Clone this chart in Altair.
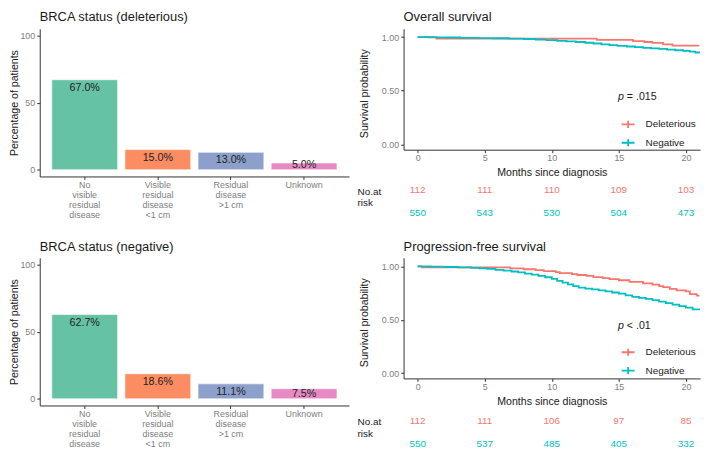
import altair as alt
import pandas as pd

FONT = "Liberation Sans"
RED = "#F8766D"
TEAL = "#00BFC4"
BAR_COLORS = ["#66C2A5", "#FC8D62", "#8DA0CB", "#E78AC3"]

# ---------------- data ----------------
categories = ["No\nvisible\nresidual\ndisease", "Visible\nresidual\ndisease\n<1 cm",
              "Residual\ndisease\n>1 cm", "Unknown"]
pct_deleterious = [67.0, 15.0, 13.0, 5.0]
pct_negative = [62.7, 18.6, 11.1, 7.5]

groups = ["Deleterious", "Negative"]

os_del_t = [0, 1.4, 13.35, 16.05, 16.9, 17.5, 18.3, 19.0, 21.0]
os_del_s = [1.0, 0.985, 0.973, 0.963, 0.954, 0.945, 0.932, 0.92, 0.92]
os_neg_t = [0, 0.8, 2.0, 3.2, 4.5, 5.6, 6.8, 7.9, 8.8, 9.6, 10.4, 11.1, 11.8, 12.5, 13.1,
            13.7, 14.3, 14.9, 15.6, 16.2, 16.8, 17.4, 18.0, 18.6, 19.2, 19.8, 20.3, 20.7, 21.0]
os_neg_s = [1.0, 0.998, 0.996, 0.993, 0.991, 0.989, 0.986, 0.982, 0.977, 0.971, 0.965, 0.96,
            0.954, 0.947, 0.94, 0.932, 0.925, 0.918, 0.912, 0.906, 0.9, 0.895, 0.889, 0.883,
            0.877, 0.871, 0.864, 0.856, 0.849]

pfs_del_t = [0, 0.3, 6.9, 7.9, 8.8, 9.4, 10.3, 10.6, 11.5, 11.9, 12.6, 13.1, 13.8, 14.3, 15.0,
             15.8, 16.8, 17.5, 18.0, 18.3, 18.8, 19.3, 20.0, 20.3, 20.8, 21.0]
pfs_del_s = [1.0, 0.991, 0.982, 0.973, 0.964, 0.955, 0.946, 0.937, 0.928, 0.919, 0.91, 0.9,
             0.89, 0.88, 0.87, 0.855, 0.84, 0.828, 0.815, 0.805, 0.79, 0.775, 0.765, 0.74,
             0.725, 0.725]
pfs_neg_t = [0, 1, 2, 3, 4, 4.6, 5.2, 5.8, 6.4, 7.0, 7.5, 8.0, 8.5, 9.0, 9.5, 10.0, 10.4, 10.8,
             11.2, 11.6, 12.0, 12.5, 13.0, 13.5, 14.0, 14.5, 15.0, 15.5, 16.0, 16.5, 17.0, 17.5,
             18.0, 18.5, 19.0, 19.5, 20.0, 20.5, 21.0]
pfs_neg_s = [1.0, 0.997, 0.994, 0.99, 0.986, 0.982, 0.976, 0.968, 0.96, 0.952, 0.943, 0.933,
             0.922, 0.911, 0.898, 0.883, 0.865, 0.847, 0.832, 0.815, 0.8, 0.792, 0.784, 0.775,
             0.766, 0.755, 0.744, 0.728, 0.714, 0.705, 0.695, 0.684, 0.67, 0.655, 0.641, 0.628,
             0.613, 0.598, 0.59]

risk_times = [0, 5, 10, 15, 20]
os_risk_del = [112, 111, 110, 109, 103]
os_risk_neg = [550, 543, 530, 504, 473]
pfs_risk_del = [112, 111, 106, 97, 85]
pfs_risk_neg = [550, 537, 485, 405, 332]

os_p = "= .015"
pfs_p = "< .01"
p_pos_t = 14.93
p_pos_s = 0.445

# ---------------- panels ----------------
def make_title(text, offset):
    return alt.Title(text, anchor="start", frame="group", offset=offset, fontSize=13,
                     baseline="top", font=FONT, color="#1a1a1a", fontWeight="normal")


def bar_panel(title, pct, title_offset):
    df = pd.DataFrame({"cat": categories, "pct": pct})
    base = alt.Chart(df).transform_calculate(
        lab="format(datum.pct, '.1f') + '%'",
        labpos="max(datum.pct - 6, 3.5)",
    )
    xenc = alt.X("cat:N", sort=categories,
                 scale=alt.Scale(paddingInner=0.1, paddingOuter=0.165),
                 axis=alt.Axis(title=None, labelAngle=0, labelExpr="split(datum.label, '\\n')",
                               labelLineHeight=10, labelBaseline="top", labelPadding=1,
                               labelFontSize=9))
    bars = base.mark_bar(stroke="white", strokeWidth=0.6).encode(
        x=xenc,
        y=alt.Y("pct:Q", scale=alt.Scale(domain=[-5, 105], nice=False, zero=False),
                axis=alt.Axis(values=[0, 25, 50, 75, 100], title="Percentage of patients",
                              titleX=-25, titleY=74.5, titleBaseline="middle",
                              titleAlign="center", titleAngle=270, labelPadding=2)),
        y2=alt.datum(0),
        color=alt.Color("cat:N", sort=categories,
                        scale=alt.Scale(domain=categories, range=BAR_COLORS), legend=None),
    )
    labels = base.mark_text(fontSize=10.8, color="#222222", baseline="middle", font=FONT).encode(
        x=alt.X("cat:N", sort=categories),
        y=alt.Y("labpos:Q"),
        text="lab:N",
    )
    return alt.layer(bars, labels).properties(width=312, height=149,
                                              title=make_title(title, title_offset))


XS_DOMAIN = [-1.05, 21.05]


def km_panel(title, del_t, del_s, neg_t, neg_s, ptxt, height, ytop, title_offset, legend_y,
             ytitle_y):
    df = pd.DataFrame({
        "t": del_t + neg_t,
        "s": del_s + neg_s,
        "group": [groups[0]] * len(del_t) + [groups[1]] * len(neg_t),
    })
    xs = alt.Scale(domain=XS_DOMAIN, nice=False, zero=False)
    ys = alt.Scale(domain=[-0.05, ytop], nice=False, zero=False)
    lines = alt.Chart(df).mark_line(interpolate="step-after", strokeWidth=1.8, clip=True).encode(
        x=alt.X("t:Q", scale=xs,
                axis=alt.Axis(values=risk_times, title="Months since diagnosis",
                              titleX=149.5, titleY=23.5, titleBaseline="middle",
                              labelPadding=1)),
        y=alt.Y("s:Q", scale=ys,
                axis=alt.Axis(values=[0, 0.25, 0.5, 0.75, 1.0], format=".2f",
                              title="Survival probability", titleX=-39, titleY=ytitle_y,
                              titleBaseline="middle", titleAlign="center", titleAngle=270,
                              labelPadding=2)),
        color=alt.Color("group:N", scale=alt.Scale(domain=groups, range=[RED, TEAL]),
                        legend=alt.Legend(title=None, orient="none", legendX=219,
                                          legendY=legend_y,
                                          symbolType="M-1,0L1,0M0,-0.55L0,0.55",
                                          symbolSize=169, symbolStrokeWidth=1.8,
                                          symbolFillColor="transparent",
                                          labelFontSize=10, labelOffset=10, rowPadding=3.5,
                                          padding=0, labelColor="#1a1a1a", labelFont=FONT)),
        order=alt.Order("t:Q"),
    )
    pdf = pd.DataFrame({"t": [p_pos_t], "s": [p_pos_s], "p": ["p"], "rest": [ptxt]})
    pmark = alt.Chart(pdf).mark_text(fontStyle="italic", fontSize=10.7, align="left",
                                     baseline="middle", color="#1a1a1a", font=FONT).encode(
        x=alt.X("t:Q"), y=alt.Y("s:Q"), text="p:N")
    rest = alt.Chart(pdf).mark_text(fontSize=10.7, align="left", baseline="middle", dx=9,
                                    color="#1a1a1a", font=FONT).encode(
        x=alt.X("t:Q"), y=alt.Y("s:Q"), text="rest:N")
    return alt.layer(lines, pmark, rest).properties(width=299, height=height,
                                                    title=make_title(title, title_offset))


def risk_panel(n_del, n_neg, height, pad_outer, align, title_y):
    df = pd.DataFrame({
        "t": risk_times + risk_times,
        "n": n_del + n_neg,
        "group": [groups[0]] * len(n_del) + [groups[1]] * len(n_neg),
    })
    return alt.Chart(df).mark_text(fontSize=10, baseline="middle", font=FONT).encode(
        x=alt.X("t:Q", scale=alt.Scale(domain=XS_DOMAIN, nice=False, zero=False), axis=None),
        y=alt.Y("group:N", scale=alt.Scale(type="band", domain=groups, paddingInner=0,
                                           paddingOuter=pad_outer, align=align),
                axis=alt.Axis(title=["No.at", "risk"], labels=False, ticks=False, domain=False,
                              titleAngle=0, titleAlign="left", titleBaseline="top",
                              titleX=-47, titleY=title_y, titleLineHeight=11.7,
                              titleFontSize=10, titleFontWeight="normal")),
        text="n:Q",
        color=alt.Color("group:N", scale=alt.Scale(domain=groups, range=[RED, TEAL]),
                        legend=None),
    ).properties(width=299, height=height)


def blank_panel():
    return alt.Chart(pd.DataFrame({"a": [0]})).mark_point(opacity=0, size=1).encode(
        x=alt.X("a:Q", axis=None), y=alt.Y("a:Q", axis=None)
    ).properties(width=312, height=10)


bar1 = bar_panel("BRCA status (deleterious)", pct_deleterious, 4.95)
bar2 = bar_panel("BRCA status (negative)", pct_negative, 4.3)
km1 = km_panel("Overall survival", os_del_t, os_del_s, os_neg_t, os_neg_s, os_p,
               122, 1.0776, 4.95, 89, 65)
km2 = km_panel("Progression-free survival", pfs_del_t, pfs_del_s, pfs_neg_t, pfs_neg_s, pfs_p,
               121.7, 1.0807, 4.3, 87.8, 65)
risk1 = risk_panel(os_risk_del, os_risk_neg, 78, 0.696, 0.0156, 7.7)
risk2 = risk_panel(pfs_risk_del, pfs_risk_neg, 48, 0.0435, 1.0, 9.2)

chart = alt.concat(
    bar1, km1, blank_panel(), risk1, bar2, km2, blank_panel(), risk2,
    columns=2, spacing={"row": 2, "column": 55}, bounds="flush",
).resolve_scale(color="independent").resolve_legend(color="independent").properties(
    padding={"left": 0, "top": 0, "right": 0, "bottom": -6}
).configure_view(stroke="transparent").configure_axis(
    domainColor="#333333", tickColor="#333333", labelColor="#808080", titleColor="#1a1a1a",
    labelFont=FONT, titleFont=FONT, labelFontSize=9, titleFontSize=10.7,
    titleFontWeight="normal", grid=False, domainWidth=1, tickWidth=1, tickSize=3,
).configure_text(font=FONT).configure_legend(labelFont=FONT).configure_title(font=FONT)

chart.save("out.html", embed_options={"renderer": "svg", "actions": False})
